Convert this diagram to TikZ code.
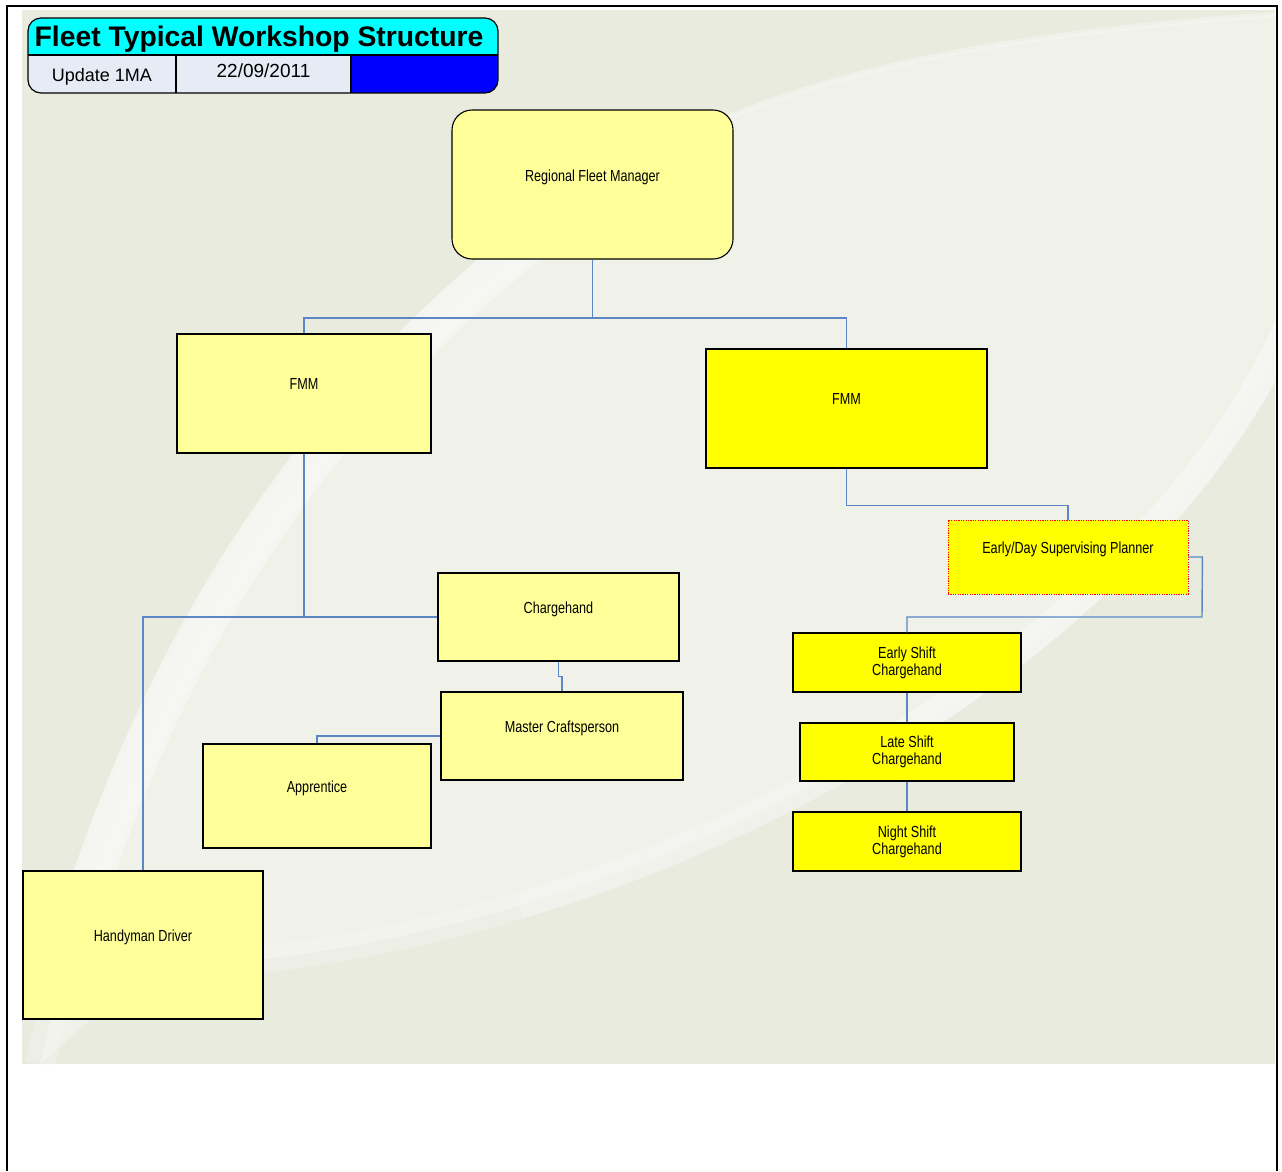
\documentclass[tikz,border=0pt]{standalone}
\usepackage{fontspec}
\setmainfont{Liberation Sans}
\newfontfamily\boxfont[FakeStretch=0.79]{Liberation Sans}
\definecolor{bgbase}{HTML}{E9EBDF}
\definecolor{bglight}{HTML}{F0F1E9}
\definecolor{bandcol}{HTML}{F7F7F4}
\definecolor{conncol}{HTML}{5B87C7}
\definecolor{paley}{HTML}{FFFF99}
\definecolor{brighty}{HTML}{FFFF00}
\definecolor{celllight}{HTML}{E6ECF6}
\definecolor{titlecyan}{HTML}{00FFFF}
\definecolor{titleblue}{HTML}{0000FF}
\definecolor{dotred}{HTML}{FF0000}
\newcommand{\oneln}[1]{#1\\[-4pt]\strut}
\begin{document}
\begin{tikzpicture}[x=1pt,y=-1pt,
  box/.style={draw=black, line width=1.1pt, fill=paley, align=center, inner sep=0pt,
    font=\boxfont\fontsize{16}{17}\selectfont},
  ybox/.style={box, fill=brighty},
  conn/.style={draw=conncol, line width=1.4pt},
  frameline/.style={draw=black, line width=2pt},
  bandline/.style={draw=bandcol, line cap=butt}
]
\useasboundingbox (0,0) rectangle (1282,1171);
\fill[white] (0,0) rectangle (1282,1171);
% background
\fill[bgbase] (22,10) rectangle (1275,1064);
\begin{scope}
\clip (22,10) rectangle (1275,1064);
\fill[bglight] (40,1064) .. controls (100,800) and (250,380) .. (700,130)
   .. controls (850,60) and (1050,30) .. (1275,15) -- (1277,340)
   .. controls (1150,650) and (650,950) .. (150,968) -- cycle;
% arc A: faint full, bright middle
\draw[bandline, line width=30pt, opacity=0.35] (40,1064) .. controls (100,800) and (250,380) .. (700,130);
\draw[bandline, line width=6pt, opacity=0.5] (700,130) .. controls (850,60) and (1050,30) .. (1275,15);
\begin{scope}
\clip (22,250) rectangle (700,880);
\draw[bandline, line width=40pt, opacity=0.85] (40,1064) .. controls (100,800) and (250,380) .. (700,130);
\end{scope}
% arc B, fading towards the lower left
\draw[bandline, line width=27pt, opacity=0.85] (1290,320) .. controls (1220,485) and (1060,642.5) .. (855,761);
\draw[bandline, line width=27pt, opacity=0.55] (855,761) .. controls (752.5,820.25) and (638.75,869.75) .. (519.4,905.6);
\draw[bandline, line width=27pt, opacity=0.35] (519.4,905.6) .. controls (400,941.4) and (275,963.5) .. (150,968);
\end{scope}
% outer frame
\draw[frameline] (7,1171) -- (7,6) -- (1277,6) -- (1277,1171);
% title block
\begin{scope}
\clip[rounded corners=13pt] (28,18) rectangle (498,93);
\fill[titlecyan] (28,18) rectangle (498,55);
\fill[celllight] (28,55) rectangle (351,93);
\fill[titleblue] (351,55) rectangle (498,93);
\end{scope}
\draw[line width=1.2pt] (28,55) -- (498,55) (176,55) -- (176,93) (351,55) -- (351,93);
\draw[line width=1.2pt, rounded corners=13pt] (28,18) rectangle (498,93);
\node[anchor=base, inner sep=0pt, font=\bfseries\fontsize{28.3}{30}\selectfont] (title) at (259,46) {Fleet Typical Workshop Structure};
\node[anchor=base, inner sep=0pt, font=\fontsize{18}{20}\selectfont] (upd) at (102,81.5) {Update 1MA};
\node[anchor=base, inner sep=0pt, font=\fontsize{19}{21}\selectfont] (date) at (263.5,77) {22/09/2011};
% nodes
\node[box, rounded corners=20pt, minimum width=281pt, minimum height=149pt] (rfm) at (592.5,184.5) {\oneln{Regional Fleet Manager}};
\node[box, minimum width=254pt, minimum height=119pt] (fmmL) at (304,393.5) {\oneln{FMM}};
\node[ybox, minimum width=281pt, minimum height=119pt] (fmmR) at (846.5,408.5) {\oneln{FMM}};
\node[ybox, draw=dotred, line width=0.8pt, dash pattern=on 1.2pt off 1.2pt, minimum width=240pt, minimum height=74pt] (pl) at (1068,557) {\oneln{Early/Day Supervising Planner}};
\node[box, minimum width=241pt, minimum height=88pt] (ch) at (558.5,617) {\oneln{Chargehand}};
\node[box, minimum width=242pt, minimum height=88pt] (mc) at (562,736) {\oneln{Master Craftsperson}};
\node[box, minimum width=228pt, minimum height=104pt] (ap) at (317,796) {\oneln{Apprentice}};
\node[box, minimum width=240pt, minimum height=148pt] (hd) at (143,945) {\oneln{Handyman Driver}};
\node[ybox, minimum width=228pt, minimum height=59pt] (es) at (907,662.5) {Early Shift\\Chargehand};
\node[ybox, minimum width=214pt, minimum height=58pt] (ls) at (907,752) {Late Shift\\Chargehand};
\node[ybox, minimum width=228pt, minimum height=59pt] (ns) at (907,841.5) {Night Shift\\Chargehand};
% connectors
\coordinate (j1) at (592.5,318);
\coordinate (j2) at (1202,617);
\draw[conn] (rfm.south) -- (j1) -| (fmmL.north);
\draw[conn] (j1) -| (fmmR.north);
\draw[conn] (fmmL.south) |- (ch.west);
\draw[conn] (hd.north) |- (ch.west);
\draw[conn] (ch.south) -- ++(0,15) -| (mc.north);
\draw[conn] (mc.west) -| (ap.north);
\draw[conn] (fmmR.south) -- ++(0,37) -| (pl.north);
\draw[conn] (pl.east) -- ++(14,0) -- (j2) -| (es.north);
\draw[conn] (es.south) -- (ls.north);
\draw[conn] (ls.south) -- (ns.north);
\end{tikzpicture}
\end{document}
